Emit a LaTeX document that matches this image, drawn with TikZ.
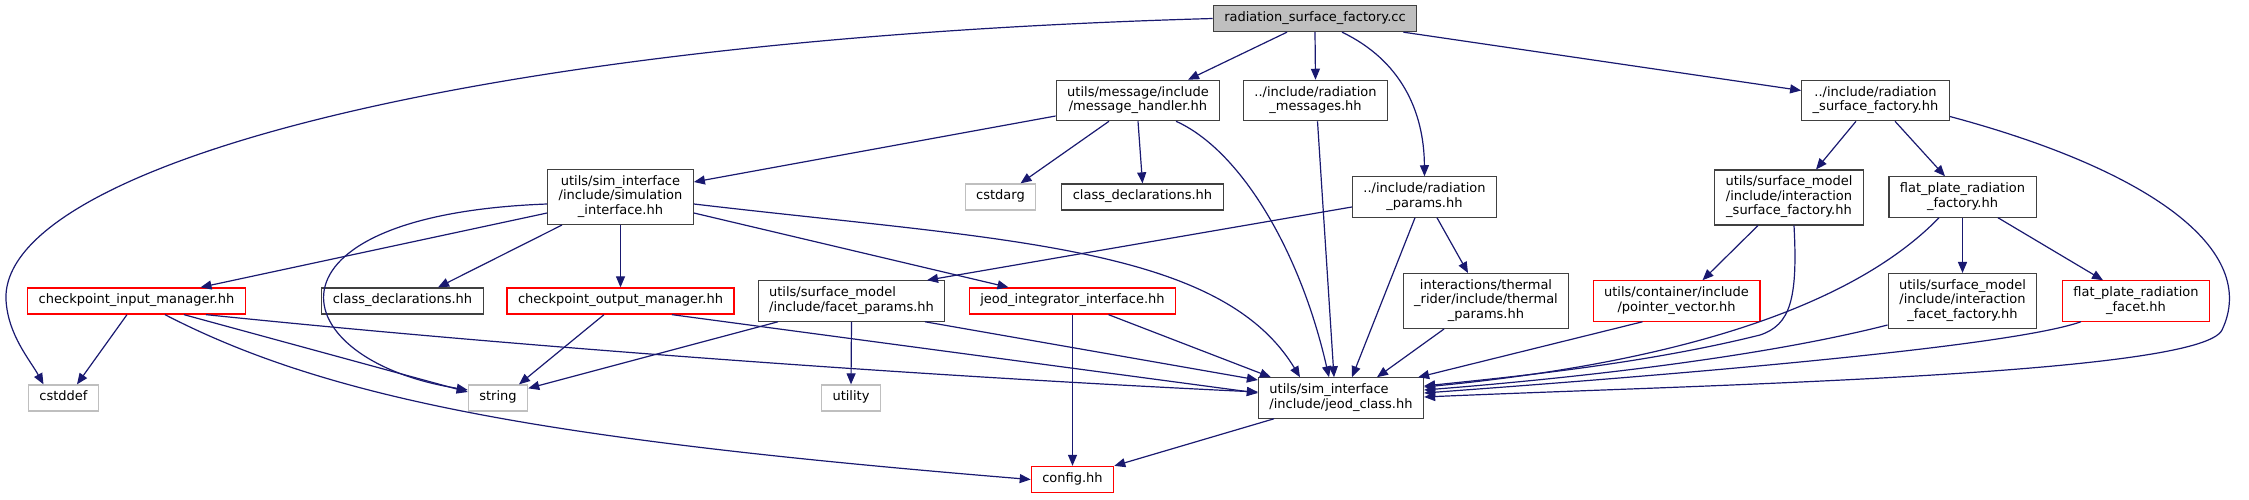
\documentclass[tikz,border=0pt]{standalone}
\usepackage{fontspec}
\setmainfont{DejaVu Sans}
\usepackage{tikz}
\usetikzlibrary{arrows.meta}
\definecolor{edgeblue}{HTML}{191970}
\definecolor{boxgray}{HTML}{BFBFBF}
\definecolor{boxline}{HTML}{404040}

\begin{document}
\begin{tikzpicture}[
  x=0.5pt, y=-0.5pt,
  every node/.style={draw=boxline, line width=0.6pt, font=\fontsize{6.5}{7.25}\selectfont,
    inner xsep=5.5pt, inner ysep=2.9pt, align=center,
    execute at begin node=\strut, execute at end node=\strut},
  rootfile/.style={fill=boxgray},
  cut/.style={draw=red},
  sys/.style={draw=boxgray},
  dep/.style={draw=edgeblue, line width=0.6pt, -{Triangle[length=5.5pt,width=4.5pt]}}
]
\useasboundingbox (0,0) rectangle (2249,499);

\node[rootfile] (root) at (1315,18.5) {radiation\_surface\_factory.cc};
\node (mh) at (1138,100.5) {utils/message/include\\/message\_handler.hh};
\node (rm) at (1315.5,100.5) {../include/radiation\\\_messages.hh};
\node (rsfh) at (1875.5,100.5) {../include/radiation\\\_surface\_factory.hh};
\node[sys] (cstdarg) at (1000.5,197) {cstdarg};
\node (cd1) at (1142.5,197) {class\_declarations.hh};
\node (rp) at (1424.5,197) {../include/radiation\\\_params.hh};
\node (si) at (620.5,197) {utils/sim\_interface\\/include/simulation\\\_interface.hh};
\node (isf) at (1789,197.5) {utils/surface\_model\\/include/interaction\\\_surface\_factory.hh};
\node (fprf) at (1962.5,197) {flat\_plate\_radiation\\\_factory.hh};
\node[cut] (cpi) at (136.5,301) {checkpoint\_input\_manager.hh};
\node (cd2) at (402.5,301) {class\_declarations.hh};
\node[cut] (cpo) at (620.5,301) {checkpoint\_output\_manager.hh};
\node[align=left] (fp) at (851.5,301) {utils/surface\_model\\/include/facet\_params.hh};
\node[cut] (jii) at (1072.5,301) {jeod\_integrator\_interface.hh};
\node (tp) at (1486,301) {interactions/thermal\\\_rider/include/thermal\\\_params.hh};
\node[cut] (pv) at (1676.5,301) {utils/container/include\\/pointer\_vector.hh};
\node (iff) at (1962.5,301) {utils/surface\_model\\/include/interaction\\\_facet\_factory.hh};
\node[cut] (fprfc) at (2136,301) {flat\_plate\_radiation\\\_facet.hh};
\node[sys] (cstddef) at (63.5,398) {cstddef};
\node[sys] (string) at (498,398) {string};
\node[sys] (utility) at (851,398) {utility};
\node[align=left] (jc) at (1341,398) {utils/sim\_interface\\/include/jeod\_class.hh};
\node[cut] (cfg) at (1072.5,479.5) {config.hh};

\draw[dep] (root.west) .. controls (450,40) and (0,170) .. (6,300) .. controls (8,335) and (30,360) .. ([xshift=-10pt]cstddef.north);
\draw[dep] ([xshift=-14pt]root.south) -- ([xshift=25pt]mh.north);
\draw[dep] (root.south) -- (rm.north);
\draw[dep] ([xshift=13.5pt]root.south) .. controls (1400,60) and (1424,110) .. (rp.north);
\draw[dep] ([xshift=-7pt]root.south east) -- ([yshift=5pt]rsfh.west);

\draw[dep] ([yshift=-7.75pt]mh.west) -- ([yshift=7.5pt]si.east);
\draw[dep] ([xshift=-14.5pt]mh.south) -- ([xshift=10pt]cstdarg.north);
\draw[dep] (mh.south) -- (cd1.north);
\draw[dep] ([xshift=19pt]mh.south) .. controls (1240,150) and (1300,250) .. ([xshift=-6pt]jc.north);
\draw[dep] ([xshift=1pt]rm.south) -- ([xshift=-3.5pt]jc.north);

\draw[dep] ([xshift=-4.75pt]rp.south) -- ([xshift=5.5pt]jc.north);
\draw[dep] ([xshift=6.25pt]rp.south) -- ([xshift=-9pt]tp.north);
\draw[dep] ([yshift=-5pt]rp.west) -- ([xshift=37.75pt]fp.north);
\draw[dep] ([xshift=-21pt]tp.south) -- ([xshift=18pt]jc.north);

\draw[dep] ([xshift=-9.75pt]rsfh.south) -- ([xshift=13.5pt]isf.north);
\draw[dep] ([xshift=9.75pt]rsfh.south) -- ([xshift=-8.75pt]fprf.north);
\draw[dep] ([yshift=-8pt]rsfh.east) .. controls (2150,170) and (2260,250) .. (2222,330) .. controls (2200,375) and (1700,385) .. ([yshift=0.5pt]jc.east);

\draw[dep] ([xshift=-15.5pt]isf.south) -- ([xshift=13pt]pv.north);
\draw[dep] ([xshift=2.5pt]isf.south) .. controls (1798,300) and (1790,325) .. (1760,335) .. controls (1640,365) and (1500,378) .. ([yshift=6pt]jc.east);
\draw[dep] ([xshift=-11.75pt]fprf.south) .. controls (1830,330) and (1600,370) .. ([yshift=5.5pt]jc.east);
\draw[dep] (fprf.south) -- (iff.north);
\draw[dep] ([xshift=17.75pt]fprf.south) -- ([xshift=-16.5pt]fprfc.north);
\draw[dep] ([xshift=-17pt]pv.south) -- ([xshift=-3pt]jc.north east);
\draw[dep] ([yshift=-12pt]iff.west) .. controls (1750,360) and (1550,380) .. ([yshift=4pt]jc.east);
\draw[dep] ([xshift=-27.5pt]fprfc.south) .. controls (2000,350) and (1600,380) .. ([yshift=2.5pt]jc.east);

\draw[dep] ([yshift=-8pt]si.west) -- ([xshift=32pt]cpi.north);
\draw[dep] ([yshift=-3.5pt]si.west) .. controls (250,215) and (280,360) .. ([yshift=4pt]string.west);
\draw[dep] ([xshift=-29.25pt]si.south) -- ([xshift=17.75pt]cd2.north);
\draw[dep] (si.south) -- (cpo.north);
\draw[dep] ([yshift=-8pt]si.east) -- ([xshift=-32pt]jii.north);
\draw[dep] ([yshift=-3.5pt]si.east) .. controls (1000,240) and (1220,245) .. ([xshift=-20.5pt]jc.north);

\draw[dep] ([xshift=-4.75pt]cpi.south) -- ([xshift=6.75pt]cstddef.north);
\draw[dep] ([xshift=23.75pt]cpi.south) -- ([yshift=3pt]string.west);
\draw[dep] ([xshift=14.25pt]cpi.south) .. controls (330,400) and (550,440) .. (cfg.west);
\draw[dep] ([xshift=34.75pt]cpi.south) .. controls (500,345) and (900,375) .. ([yshift=3pt]jc.west);

\draw[dep] ([xshift=-8.25pt]cpo.south) -- ([xshift=10.5pt]string.north);
\draw[dep] ([xshift=25.75pt]cpo.south) -- ([yshift=2.5pt]jc.west);

\draw[dep] ([xshift=-36.75pt]fp.south) -- ([yshift=-2pt]string.north east);
\draw[dep] (fp.south) -- (utility.north);
\draw[dep] ([xshift=36.75pt]fp.south) -- ([yshift=9pt]jc.west);

\draw[dep] (jii.south) -- (cfg.north);
\draw[dep] ([xshift=18pt]jii.south) -- ([xshift=6.5pt]jc.north west);
\draw[dep] ([xshift=-33.5pt]jc.south) -- (cfg.north east);
\end{tikzpicture}
\end{document}
